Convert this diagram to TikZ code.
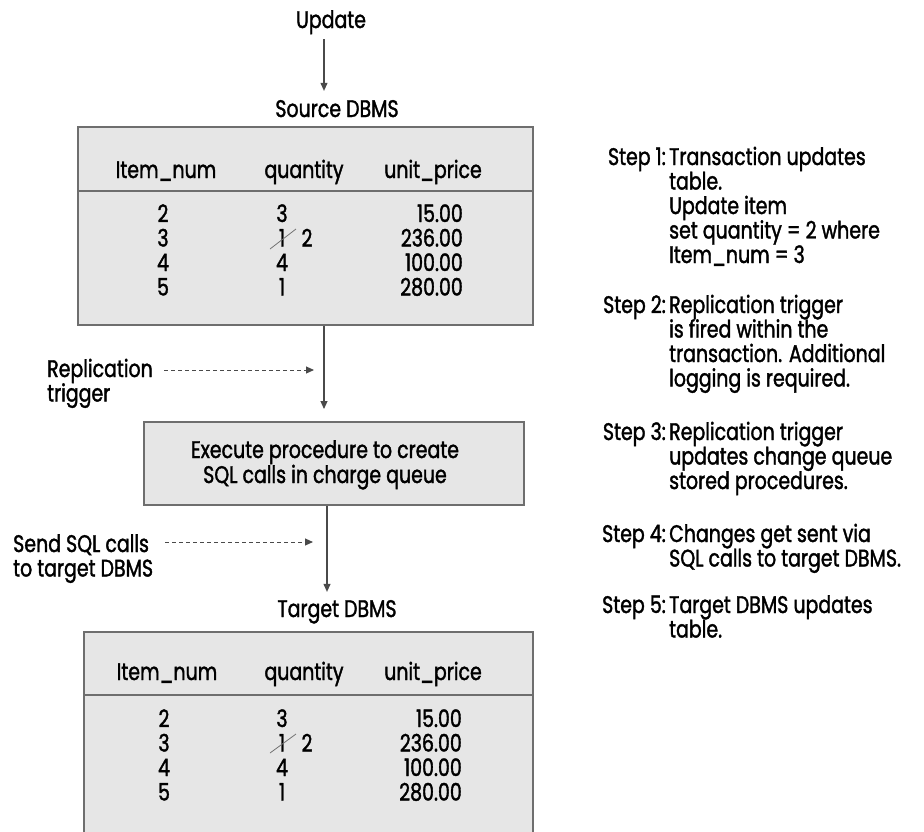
\documentclass[tikz,border=0pt]{standalone}
\usepackage{fontspec}
\setmainfont{Poppins}[FakeStretch=0.79, FakeBold=1.5]
\usetikzlibrary{arrows.meta}
\definecolor{boxfill}{HTML}{E6E6E6}
\definecolor{boxline}{HTML}{6E6E6E}
\definecolor{arrline}{HTML}{4A4A4A}
\newcommand\leftlines[1]{\vtop{\baselineskip=24.5pt\lineskiplimit=-100pt\halign{##\hfil\cr #1\crcr}}}
\newcommand\centerlines[1]{\vtop{\baselineskip=25pt\lineskiplimit=-100pt\halign{\hfil##\hfil\cr #1\crcr}}}
\begin{document}
\begin{tikzpicture}[x=1pt,y=-1pt,
  txt/.style={font=\fontsize{24}{24.5}\selectfont, inner sep=0pt, text=black},
  tbl/.style={draw=boxline, line width=1.8pt, fill=boxfill, inner sep=0pt},
  sepline/.style={draw=boxline, line width=1.8pt},
  conn/.style={draw=arrline, line width=1.1pt, -{Triangle[length=8pt,width=7pt]}},
  dconn/.style={draw=arrline, line width=1pt, dash pattern=on 4pt off 3pt, -{Triangle[length=8pt,width=7pt]}},
  strike/.style={draw=black!55, line width=0.8pt}]
\useasboundingbox[fill=white] (0,0) rectangle (924,831);

% ---------- top ----------
\node[txt, anchor=base] (upd) at (331,28) {Update};
\node[txt, anchor=base] (srcl) at (337,117) {Source DBMS};
\coordinate (ax1) at (324,0);
\draw[conn] ([yshift=-5pt]upd.south -| ax1) -- ([yshift=9pt]srcl.north -| ax1);

% ---------- source table ----------
\node[tbl, minimum width=455pt, minimum height=198pt, anchor=north west] (src) at (77,126) {};
\draw[sepline] (77,191) -- (532,191);
\node[txt, anchor=base] (sh1) at (166,178) {Item\_num};
\node[txt, anchor=base] (sh2) at (304,178) {quantity};
\node[txt, anchor=base] (sh3) at (433,178) {unit\_price};
\node[txt, anchor=base] (sa1) at (163,222) {2};
\node[txt, anchor=base] (sa2) at (163,246.5) {3};
\node[txt, anchor=base] (sa3) at (163,271) {4};
\node[txt, anchor=base] (sa4) at (163,295.5) {5};
\node[txt, anchor=base] (sb1) at (282,222) {3};
\node[txt, anchor=base] (sb2) at (282,246.5) {1};
\node[txt, anchor=base] (sb2n) at (307,246.5) {2};
\node[txt, anchor=base] (sb3) at (282,271) {4};
\node[txt, anchor=base] (sb4) at (282,295.5) {1};
\node[txt, anchor=base east] (sc1) at (463,222) {15.00};
\node[txt, anchor=base east] (sc2) at (463,246.5) {236.00};
\node[txt, anchor=base east] (sc3) at (463,271) {100.00};
\node[txt, anchor=base east] (sc4) at (463,295.5) {280.00};
\draw[strike] (270,249) -- (296,229);

% ---------- middle ----------
\node[tbl, minimum width=380pt, minimum height=83pt, anchor=north west] (exec) at (143,421) {};
\node[txt, anchor=base] (exect) at (325,458) {\centerlines{Execute procedure to create\cr SQL calls in charge queue}};
\coordinate (ax2) at (324,0);
\coordinate (ax3) at (327,0);
\draw[conn] (src.south -| ax2) -- ([yshift=12pt]exec.north -| ax2);

\node[txt, anchor=base west] (rep) at (47,377) {\leftlines{Replication\cr trigger}};
\coordinate (d1s) at (164,370);
\coordinate (d1e) at (314,370);
\draw[dconn] (d1s) -- (d1e);

\node[txt, anchor=base] (tgl) at (337,617) {Target DBMS};
\draw[conn] (exec.south -| ax3) -- ([yshift=8pt]tgl.north -| ax3);

\node[txt, anchor=base west] (send) at (13,552) {\leftlines{Send SQL calls\cr to target DBMS}};
\coordinate (d2s) at (165,542);
\coordinate (d2e) at (313,542);
\draw[dconn] (d2s) -- (d2e);

% ---------- target table (runs past the lower edge) ----------
\node[tbl, minimum width=449pt, minimum height=215pt, anchor=north west] (tgt) at (83,631) {};
\draw[sepline] (83,695) -- (532,695);
\node[txt, anchor=base] (th1) at (167,680) {Item\_num};
\node[txt, anchor=base] (th2) at (304,680) {quantity};
\node[txt, anchor=base] (th3) at (433,680) {unit\_price};
\node[txt, anchor=base] (ta1) at (164,727) {2};
\node[txt, anchor=base] (ta2) at (164,751.5) {3};
\node[txt, anchor=base] (ta3) at (164,776) {4};
\node[txt, anchor=base] (ta4) at (164,800.5) {5};
\node[txt, anchor=base] (tb1) at (282,727) {3};
\node[txt, anchor=base] (tb2) at (282,751.5) {1};
\node[txt, anchor=base] (tb2n) at (307,751.5) {2};
\node[txt, anchor=base] (tb3) at (282,776) {4};
\node[txt, anchor=base] (tb4) at (282,800.5) {1};
\node[txt, anchor=base east] (tc1) at (462,727) {15.00};
\node[txt, anchor=base east] (tc2) at (462,751.5) {236.00};
\node[txt, anchor=base east] (tc3) at (462,776) {100.00};
\node[txt, anchor=base east] (tc4) at (462,800.5) {280.00};
\draw[strike] (270,753) -- (296,734);

% ---------- steps ----------
\node[txt, anchor=base east] (s1) at (666,165) {Step 1:};
\node[txt, anchor=base west] (s1t) at (669,165) {\leftlines{Transaction updates\cr table.\cr Update item\cr set quantity = 2 where\cr Item\_num = 3}};
\node[txt, anchor=base east] (s2) at (666,313) {Step 2:};
\node[txt, anchor=base west] (s2t) at (669,313) {\leftlines{Replication trigger\cr is fired within the\cr transaction. Additional\cr logging is required.}};
\node[txt, anchor=base east] (s3) at (666,440) {Step 3:};
\node[txt, anchor=base west] (s3t) at (669,440) {\leftlines{Replication trigger\cr updates change queue\cr stored procedures.}};
\node[txt, anchor=base east] (s4) at (666,542) {Step 4:};
\node[txt, anchor=base west] (s4t) at (669,542) {\leftlines{Changes get sent via\cr SQL calls to target DBMS.}};
\node[txt, anchor=base east] (s5) at (666,613) {Step 5:};
\node[txt, anchor=base west] (s5t) at (669,613) {\leftlines{Target DBMS updates\cr table.}};
\end{tikzpicture}
\end{document}
